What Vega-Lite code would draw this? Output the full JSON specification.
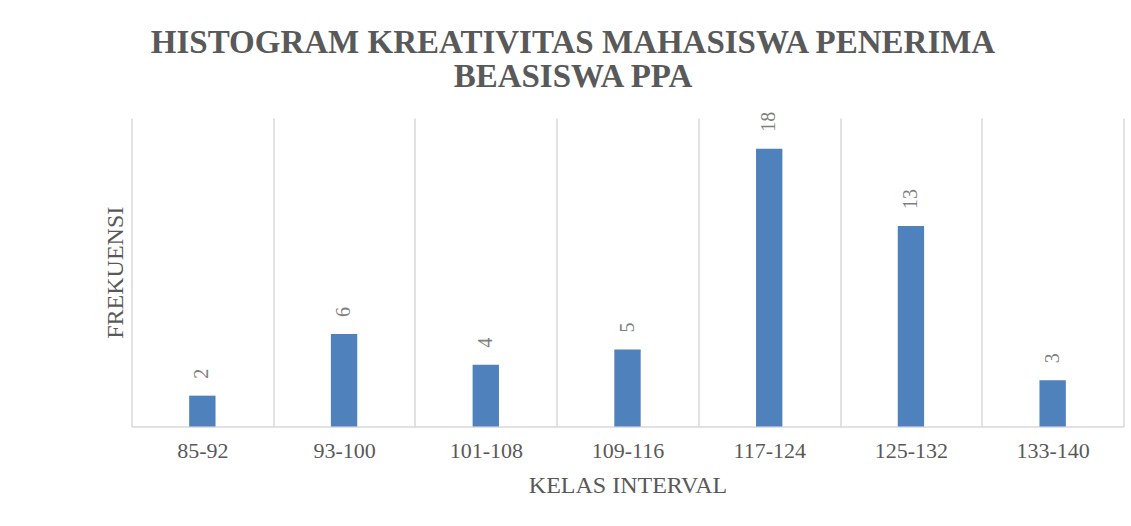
{
  "$schema": "https://vega.github.io/schema/vega-lite/v6.json",
  "width": 992,
  "height": 308.5,
  "autosize": {"type": "none"},
  "padding": {"left": 131.5, "top": 118, "right": 7.5, "bottom": 99.5},
  "background": "white",
  "title": {
    "text": ["HISTOGRAM KREATIVITAS MAHASISWA PENERIMA", "BEASISWA PPA"],
    "font": "Liberation Serif",
    "fontSize": 33,
    "fontWeight": "bold",
    "color": "#595959",
    "lineHeight": 34,
    "anchor": "middle",
    "dx": -54.5,
    "offset": 18
  },
  "data": {
    "values": [
      {"kelas": "85-92", "frekuensi": 2},
      {"kelas": "93-100", "frekuensi": 6},
      {"kelas": "101-108", "frekuensi": 4},
      {"kelas": "109-116", "frekuensi": 5},
      {"kelas": "117-124", "frekuensi": 18},
      {"kelas": "125-132", "frekuensi": 13},
      {"kelas": "133-140", "frekuensi": 3}
    ]
  },
  "encoding": {
    "x": {
      "field": "kelas",
      "type": "nominal",
      "sort": null,
      "scale": {"paddingInner": 0, "paddingOuter": 0},
      "axis": {
        "title": "KELAS INTERVAL",
        "titleFont": "Liberation Serif",
        "titleFontSize": 24,
        "titleFontWeight": "normal",
        "titleColor": "#595959",
        "titlePadding": 12,
        "labelFont": "Liberation Serif",
        "labelFontSize": 22,
        "labelColor": "#595959",
        "labelAngle": 0,
        "labelPadding": 14,
        "labelBaseline": "top",
        "ticks": false,
        "domainColor": "#d9d9d9",
        "domainWidth": 1.5,
        "grid": true,
        "gridColor": "#d9d9d9",
        "gridWidth": 1.5,
        "tickBand": "extent"
      }
    },
    "y": {
      "field": "frekuensi",
      "type": "quantitative",
      "scale": {"domain": [0, 20]},
      "axis": {
        "title": "FREKUENSI",
        "titleFont": "Liberation Serif",
        "titleFontSize": 24,
        "titleFontWeight": "normal",
        "titleColor": "#595959",
        "titlePadding": 4,
        "labels": false,
        "ticks": false,
        "domain": false,
        "grid": false
      }
    }
  },
  "layer": [
    {
      "mark": {"type": "bar", "width": {"band": 0.186}, "color": "#4F81BD"}
    },
    {
      "mark": {
        "type": "text",
        "angle": 270,
        "align": "left",
        "baseline": "middle",
        "dx": 17,
        "font": "Liberation Serif",
        "fontSize": 20,
        "color": "#7f7f7f"
      },
      "encoding": {"text": {"field": "frekuensi", "type": "quantitative"}}
    }
  ],
  "config": {"view": {"stroke": null}}
}
